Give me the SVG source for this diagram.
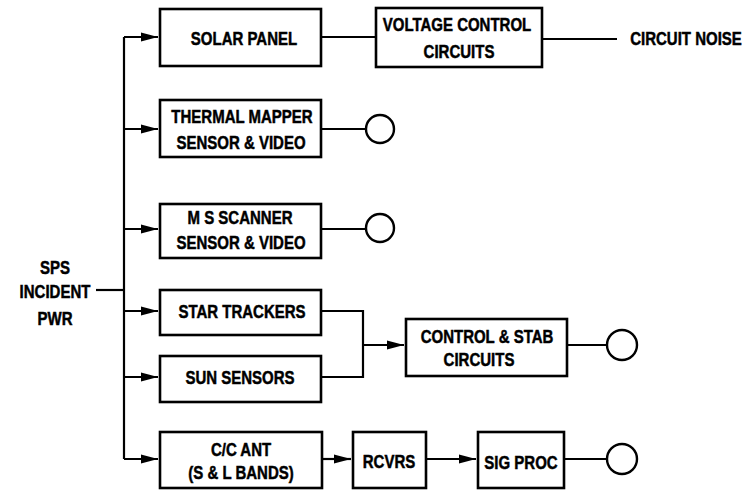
<svg xmlns="http://www.w3.org/2000/svg" width="755" height="491" viewBox="0 0 755 491">
<style>
.box{fill:#fff;stroke:#000;stroke-width:2.6}
.ln{fill:none;stroke:#000;stroke-width:2.2}
.out{fill:#fff;stroke:#000;stroke-width:2.4}
text{font-family:"Liberation Sans",Arial,sans-serif;font-weight:bold;font-size:15px;fill:#000;text-anchor:middle;stroke:#000;stroke-width:0.4}
</style>
<defs>
<marker id="ah" markerUnits="userSpaceOnUse" markerWidth="18" markerHeight="12" refX="17" refY="6" orient="auto">
<path d="M0,1.5 L17,6 L0,10.5 z" fill="#000"/>
</marker>
</defs>
<rect width="755" height="491" fill="#fff"/>
<g id="connectors">
<path class="ln" d="M96,290 H124"/>
<path class="ln" d="M124,37 V459"/>
<path class="ln" d="M124,37 H158" marker-end="url(#ah)"/>
<path class="ln" d="M124,129 H158" marker-end="url(#ah)"/>
<path class="ln" d="M124,229 H158" marker-end="url(#ah)"/>
<path class="ln" d="M124,311 H158" marker-end="url(#ah)"/>
<path class="ln" d="M124,377 H158" marker-end="url(#ah)"/>
<path class="ln" d="M124,459 H158" marker-end="url(#ah)"/>
<path class="ln" d="M321,37 H376"/>
<path class="ln" d="M542,39 H617"/>
<path class="ln" d="M321,129 H366"/>
<path class="ln" d="M321,229 H366"/>
<path class="ln" d="M321,311 H363 V377 H321"/>
<path class="ln" d="M363,345 H404" marker-end="url(#ah)"/>
<path class="ln" d="M567,345 H607"/>
<path class="ln" d="M322,459 H351" marker-end="url(#ah)"/>
<path class="ln" d="M426,459 H476" marker-end="url(#ah)"/>
<path class="ln" d="M564,459 H607"/>
</g>
<g id="sps">
<text transform="translate(55,274) scale(1,1.18)">SPS</text>
<text transform="translate(55,298) scale(1,1.18)">INCIDENT</text>
<text transform="translate(55,325) scale(1,1.18)">PWR</text>
</g>
<g id="solar-panel">
<rect class="box" x="160" y="9" width="161" height="57"/>
<text transform="translate(244,45) scale(1,1.18)">SOLAR PANEL</text>
</g>
<g id="voltage-control">
<rect class="box" x="376" y="8" width="166" height="59"/>
<text transform="translate(457,31) scale(1,1.18)">VOLTAGE CONTROL</text>
<text transform="translate(459,58) scale(1,1.18)">CIRCUITS</text>
</g>
<g id="circuit-noise">
<text transform="translate(686,45) scale(1,1.18)">CIRCUIT NOISE</text>
</g>
<g id="thermal-mapper">
<rect class="box" x="160" y="100" width="161" height="57"/>
<text transform="translate(242,123) scale(1,1.18)">THERMAL MAPPER</text>
<text transform="translate(241,149) scale(1,1.18)">SENSOR &amp; VIDEO</text>
<circle class="out" cx="380" cy="129" r="14"/>
</g>
<g id="ms-scanner">
<rect class="box" x="160" y="204" width="161" height="54"/>
<text transform="translate(240,224) scale(1,1.18)">M S SCANNER</text>
<text transform="translate(241,249) scale(1,1.18)">SENSOR &amp; VIDEO</text>
<circle class="out" cx="380" cy="228" r="14"/>
</g>
<g id="star-trackers">
<rect class="box" x="160" y="290" width="161" height="45"/>
<text transform="translate(242,318) scale(1,1.18)">STAR TRACKERS</text>
</g>
<g id="sun-sensors">
<rect class="box" x="160" y="356" width="161" height="46"/>
<text transform="translate(240,384) scale(1,1.18)">SUN SENSORS</text>
</g>
<g id="control-stab">
<rect class="box" x="406" y="319" width="161" height="57"/>
<text transform="translate(487,343) scale(1,1.18)">CONTROL &amp; STAB</text>
<text transform="translate(479,366) scale(1,1.18)">CIRCUITS</text>
<circle class="out" cx="622" cy="345" r="15"/>
</g>
<g id="cc-ant">
<rect class="box" x="160" y="432" width="162" height="56"/>
<text transform="translate(241,456) scale(1,1.18)">C/C ANT</text>
<text transform="translate(241,479) scale(1,1.18)">(S &amp; L BANDS)</text>
</g>
<g id="rcvrs">
<rect class="box" x="353" y="432" width="73" height="56"/>
<text transform="translate(389,468) scale(1,1.18)">RCVRS</text>
</g>
<g id="sig-proc">
<rect class="box" x="478" y="432" width="86" height="56"/>
<text transform="translate(521,469) scale(1,1.18)">SIG PROC</text>
<circle class="out" cx="622" cy="459" r="15"/>
</g>
</svg>
